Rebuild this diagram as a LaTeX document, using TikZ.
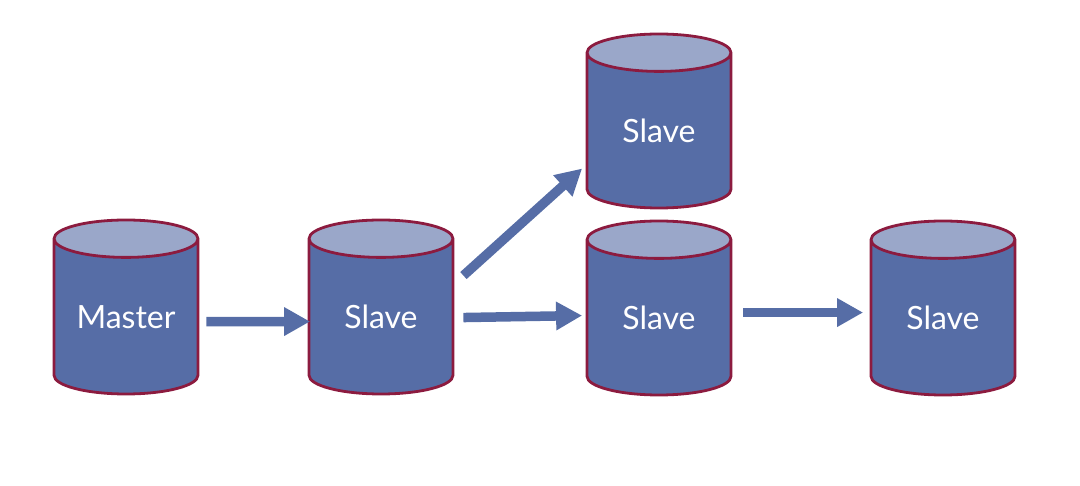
\documentclass[tikz,border=0pt]{standalone}
\usepackage{fontspec}
\setmainfont{Lato}
\usetikzlibrary{shapes.geometric,arrows.meta}
\definecolor{bodyblue}{HTML}{566DA6}
\definecolor{topblue}{HTML}{9AA7C9}
\definecolor{rimred}{HTML}{8C1B3F}
\tikzset{
  x=1pt,y=-1pt,
  dbcyl/.style={shape=cylinder,shape border rotate=90,aspect=0.34,draw=rimred,line width=2.8pt,
    cylinder uses custom fill,cylinder body fill=bodyblue,cylinder end fill=topblue,
    minimum width=144pt,minimum height=174pt,inner sep=0pt,text=white,
    text width=110pt,align=center,anchor=shape center,
    font=\fontsize{32}{36}\selectfont},
  flow/.style={draw=bodyblue,line width=9.5pt,-{Triangle[length=26pt,width=27pt]}}
}
\begin{document}
\begin{tikzpicture}
\useasboundingbox (0,0) rectangle (1080,486);
\node[dbcyl] (m) at (126,307) {Master};
\node[dbcyl] (s2) at (381,307) {Slave};
\node[dbcyl] (s3) at (659,121) {Slave};
\node[dbcyl] (s4) at (659,308) {Slave};
\node[dbcyl] (s5) at (943,308) {Slave};
\draw[flow] ([shift={(m.east)}]7,4.5) -- ([shift={(s2.west)}]2.5,4.5);
\draw[flow] ([shift={(s2.east)}]9,-41.5) -- ([shift={(s3.west)}]-3.5,37.5);
\draw[flow] ([shift={(s2.east)}]9,0.5) -- ([shift={(s4.west)}]-3.5,-2.5);
\draw[flow] ([shift={(s4.east)}]11,-5.5) -- ([shift={(s5.west)}]-6.5,-5.5);
\end{tikzpicture}
\end{document}
